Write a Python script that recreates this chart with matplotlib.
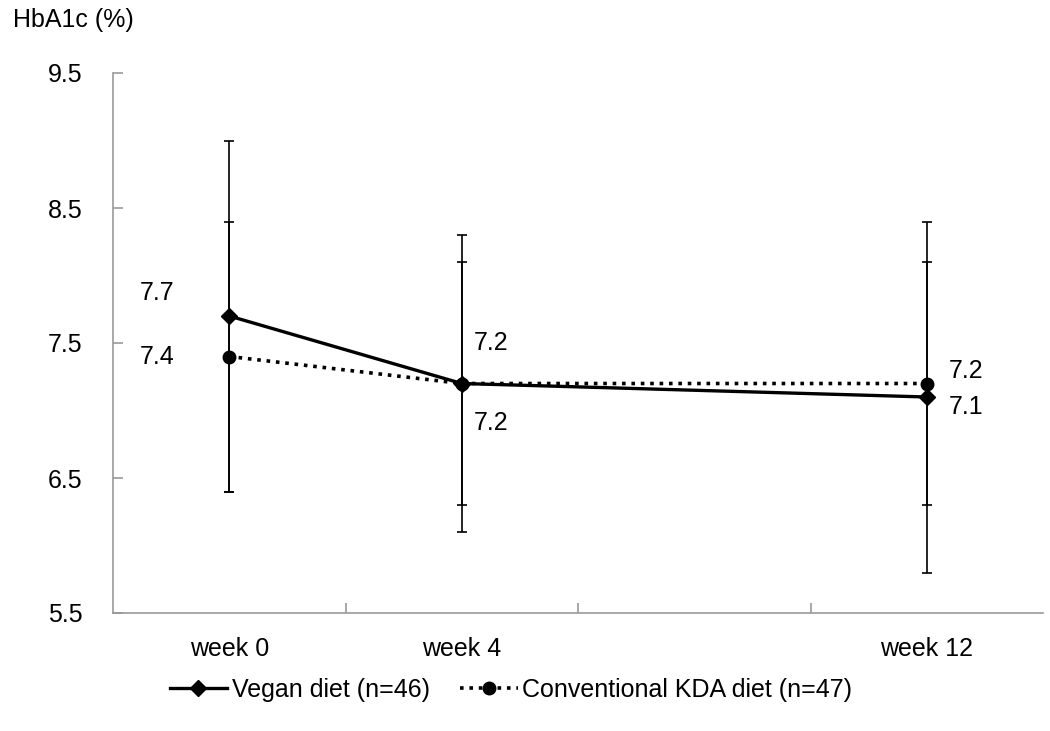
import numpy as np
import matplotlib.pyplot as plt

plt.rcParams['font.family'] = ['Liberation Sans', 'DejaVu Sans']

# categories (third slot is an empty week)
categories = ["week 0", "week 4", "", "week 12"]
has_data = [True, True, False, True]

vegan_mean = [7.7, 7.2, np.nan, 7.1]
vegan_sd = [1.3, 1.1, np.nan, 1.3]
conv_mean = [7.4, 7.2, np.nan, 7.2]
conv_sd = [1.0, 0.9, np.nan, 0.9]

vegan_label = "Vegan diet (n=46)"
conv_label = "Conventional KDA diet (n=47)"

y_ticks = [5.5, 6.5, 7.5, 8.5, 9.5]

# label offsets in pixels (dx, dy) for each data point
vegan_offsets = [(-72, 23), (29, -40), (39, -10)]
conv_offsets = [(-72, 0), (29, 41), (39, 13)]

FS = 18

fig = plt.figure(figsize=(10.5, 7.31), dpi=100)
ax = fig.add_axes([113 / 1050, (731 - 613) / 731, (1043 - 113) / 1050, (613 - 73) / 731])

x_all = np.arange(len(categories))
mask = np.array(has_data)
x = x_all[mask]
vm = np.array(vegan_mean)[mask]
vs = np.array(vegan_sd)[mask]
cm = np.array(conv_mean)[mask]
cs = np.array(conv_sd)[mask]

ax.errorbar(x, vm, yerr=vs, fmt='none', ecolor='black', elinewidth=1.2,
            capsize=3.8, capthick=1.2, zorder=2)
ax.errorbar(x, cm, yerr=cs, fmt='none', ecolor='black', elinewidth=1.2,
            capsize=3.8, capthick=1.2, zorder=2)

ax.plot(x, vm, color='black', linestyle='-', linewidth=2.4, marker='D',
        markersize=8, label=vegan_label, zorder=3)
ax.plot(x, cm, color='black', linestyle=(0, (1, 1.6)), linewidth=2.6, marker='o',
        markersize=9, label=conv_label, zorder=3)

for xi, yi, off in zip(x, vm, vegan_offsets):
    ax.annotate(f"{yi:.1f}", (xi, yi), xytext=off, textcoords='offset pixels',
                ha='center', va='center', fontsize=FS)
for xi, yi, off in zip(x, cm, conv_offsets):
    ax.annotate(f"{yi:.1f}", (xi, yi), xytext=off, textcoords='offset pixels',
                ha='center', va='center', fontsize=FS)

ax.set_xlim(-0.5, len(categories) - 0.5)
ax.set_ylim(5.5, 9.5)
ax.set_yticks(y_ticks)
ax.set_yticklabels([f"{t:.1f}" for t in y_ticks], fontsize=FS)
ax.set_xticks(x_all)
ax.set_xticklabels(categories, fontsize=FS)
ax.set_xticks(x_all[:-1] + 0.5, minor=True)
ax.tick_params(axis='x', which='major', length=0, pad=17)
ax.tick_params(axis='x', which='minor', direction='in', length=7, color='#999999', width=1.2)
ax.tick_params(axis='y', direction='in', length=7, color='#999999', width=1.2, pad=22)

for s in ['top', 'right']:
    ax.spines[s].set_visible(False)
for s in ['left', 'bottom']:
    ax.spines[s].set_color('#999999')
    ax.spines[s].set_linewidth(1.2)

fig.text(13 / 1050, 1 - 20 / 731, "HbA1c (%)", fontsize=FS, ha='left', va='center')

fig.legend(loc='center', bbox_to_anchor=(511 / 1050, 1 - 690 / 731), ncol=2, frameon=False,
           fontsize=FS, handlelength=2.3, handletextpad=0.2, columnspacing=1.2)

fig.savefig("out.png", dpi=100)
